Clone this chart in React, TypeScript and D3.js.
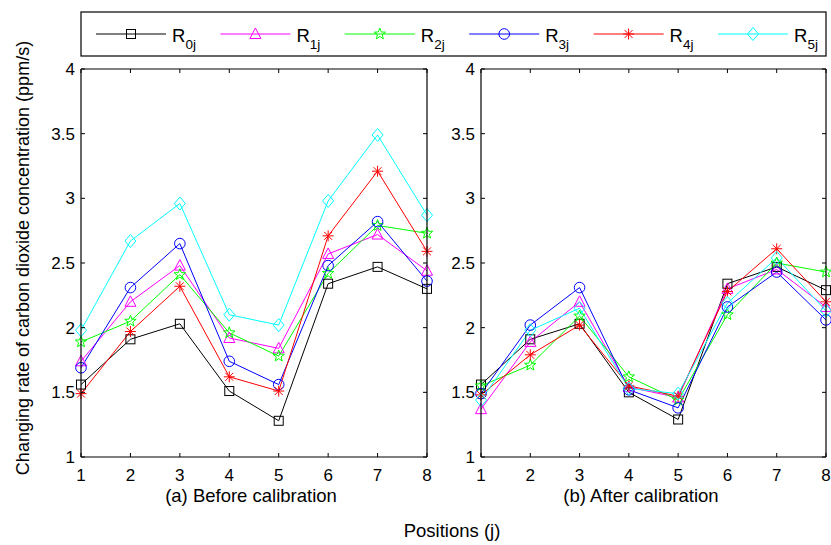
import React from "react";
import * as d3 from "d3";

const positions = [1, 2, 3, 4, 5, 6, 7, 8];
const yTicks = [1, 1.5, 2, 2.5, 3, 3.5, 4];
const seriesSubs = ["0j", "1j", "2j", "3j", "4j", "5j"];
const seriesColors = ["#000000", "#ff00ff", "#00ff00", "#0000ff", "#ff0000", "#00ffff"];
const seriesMarkers = ["square", "triangle", "star", "circle", "asterisk", "diamond"];

const beforeR0 = [1.56, 1.91, 2.03, 1.51, 1.28, 2.34, 2.47, 2.30];
const beforeR1 = [1.74, 2.20, 2.48, 1.92, 1.84, 2.57, 2.72, 2.44];
const beforeR2 = [1.89, 2.05, 2.41, 1.96, 1.78, 2.42, 2.79, 2.73];
const beforeR3 = [1.69, 2.31, 2.65, 1.74, 1.56, 2.48, 2.82, 2.36];
const beforeR4 = [1.49, 1.97, 2.32, 1.62, 1.51, 2.71, 3.21, 2.59];
const beforeR5 = [1.98, 2.67, 2.96, 2.10, 2.02, 2.98, 3.49, 2.87];

const afterR0 = [1.56, 1.91, 2.03, 1.50, 1.29, 2.34, 2.47, 2.29];
const afterR1 = [1.37, 1.89, 2.20, 1.54, 1.46, 2.30, 2.45, 2.16];
const afterR2 = [1.55, 1.71, 2.09, 1.62, 1.44, 2.10, 2.50, 2.43];
const afterR3 = [1.49, 2.02, 2.31, 1.52, 1.38, 2.16, 2.43, 2.06];
const afterR4 = [1.48, 1.79, 2.02, 1.55, 1.47, 2.28, 2.61, 2.20];
const afterR5 = [1.44, 1.98, 2.15, 1.53, 1.49, 2.19, 2.54, 2.13];

const beforeSeries = [beforeR0, beforeR1, beforeR2, beforeR3, beforeR4, beforeR5];
const afterSeries = [afterR0, afterR1, afterR2, afterR3, afterR4, afterR5];

const FONT = "'Liberation Sans', Arial, Helvetica, sans-serif";
const W = 831;
const H = 545;
const TOP = 69;
const BOTTOM = 457;

function Marker({ kind, x, y, color }: { kind: string; x: number; y: number; color: string }) {
  const common = { fill: "none", stroke: color, strokeWidth: 1 };
  if (kind === "square") return <rect x={x - 4.5} y={y - 4.5} width={9} height={9} {...common} />;
  if (kind === "circle") return <circle cx={x} cy={y} r={5.3} {...common} />;
  if (kind === "triangle") {
    const p = `${x},${y - 6} ${x + 5.5},${y + 4.5} ${x - 5.5},${y + 4.5}`;
    return <polygon points={p} {...common} />;
  }
  if (kind === "diamond") {
    const p = `${x},${y - 6.5} ${x + 5.5},${y} ${x},${y + 6.5} ${x - 5.5},${y}`;
    return <polygon points={p} {...common} />;
  }
  if (kind === "star") {
    const pts: string[] = [];
    for (let i = 0; i < 10; i++) {
      const r = i % 2 === 0 ? 6 : 2.5;
      const a = -Math.PI / 2 + (i * Math.PI) / 5;
      pts.push(`${x + r * Math.cos(a)},${y + r * Math.sin(a)}`);
    }
    return <polygon points={pts.join(" ")} {...common} />;
  }
  const r = 5.5;
  const d = r * 0.72;
  return (
    <g stroke={color} strokeWidth={1}>
      <line x1={x} y1={y - r} x2={x} y2={y + r} />
      <line x1={x - r} y1={y} x2={x + r} y2={y} />
      <line x1={x - d} y1={y - d} x2={x + d} y2={y + d} />
      <line x1={x - d} y1={y + d} x2={x + d} y2={y - d} />
    </g>
  );
}

function Panel({ x0, x1, data, caption, captionX }: { x0: number; x1: number; data: number[][]; caption: string; captionX: number }) {
  const xs = d3.scaleLinear().domain([1, 8]).range([x0, x1]);
  const ys = d3.scaleLinear().domain([1, 4]).range([BOTTOM, TOP]);
  const line = d3
    .line<number>()
    .x((_, i) => xs(positions[i]))
    .y((v) => ys(v));
  const tl = 4;
  return (
    <g>
      <rect x={x0} y={TOP} width={x1 - x0} height={BOTTOM - TOP} fill="#fff" stroke="none" />
      {data.map((s, si) => (
        <path key={"l" + si} d={line(s) || ""} fill="none" stroke={seriesColors[si]} strokeWidth={1} />
      ))}
      {data.map((s, si) =>
        s.map((v, i) => (
          <Marker key={`m${si}-${i}`} kind={seriesMarkers[si]} x={xs(positions[i])} y={ys(v)} color={seriesColors[si]} />
        ))
      )}
      <line x1={x0} y1={TOP} x2={x0} y2={BOTTOM} stroke="#000" strokeWidth={1.2} />
      <line x1={x1} y1={TOP} x2={x1} y2={BOTTOM} stroke="#000" strokeWidth={1.2} />
      <line x1={x0} y1={BOTTOM} x2={x1} y2={BOTTOM} stroke="#000" strokeWidth={1.2} />
      <line x1={x0} y1={TOP} x2={x1} y2={TOP} stroke="#000" strokeWidth={1.2} />
      {yTicks.map((t) => (
        <g key={"y" + t}>
          <line x1={x0} y1={ys(t)} x2={x0 + tl} y2={ys(t)} stroke="#000" />
          <line x1={x1} y1={ys(t)} x2={x1 - tl} y2={ys(t)} stroke="#000" />
          <text x={x0 - 6} y={ys(t)} dy="0.36em" textAnchor="end" fontSize={17} fontFamily={FONT} fill="#000">
            {t}
          </text>
        </g>
      ))}
      {positions.map((t) => (
        <g key={"x" + t}>
          <line x1={xs(t)} y1={BOTTOM} x2={xs(t)} y2={BOTTOM - tl} stroke="#000" />
          <line x1={xs(t)} y1={TOP} x2={xs(t)} y2={TOP + tl} stroke="#000" />
          <text x={xs(t)} y={481} textAnchor="middle" fontSize={17} fontFamily={FONT} fill="#000">
            {t}
          </text>
        </g>
      ))}
      <text x={captionX} y={502} textAnchor="middle" fontSize={18.5} fontFamily={FONT} fill="#000">
        {caption}
      </text>
    </g>
  );
}

export default function App() {
  const legendItemX = d3.scaleLinear().domain([0, 5]).range([96, 718]);
  return (
    <svg width={W} height={H} style={{ position: "absolute", left: 0, top: 0, background: "#fff" }}>
      <rect x={0} y={0} width={W} height={H} fill="#fff" />
      <Panel x0={81} x1={427} data={beforeSeries} caption="(a) Before calibration" captionX={251} />
      <Panel x0={481} x1={826} data={afterSeries} caption="(b) After calibration" captionX={641} />
      <text
        transform={`translate(29,${(TOP + BOTTOM) / 2 - 5}) rotate(-90)`}
        textAnchor="middle"
        fontSize={18}
        fontFamily={FONT}
        fill="#000"
      >
        Changing rate of carbon dioxide concentration (ppm/s)
      </text>
      <text x={452} y={537} textAnchor="middle" fontSize={18.5} fontFamily={FONT} fill="#000">
        Positions (j)
      </text>
      <rect x={81} y={12} width={745} height={44} fill="#fff" stroke="#000" strokeWidth={1.2} />
      {seriesSubs.map((sub, i) => {
        const lx = legendItemX(i);
        return (
          <g key={"lg" + i}>
            <line x1={lx} y1={34} x2={lx + 70} y2={34} stroke={seriesColors[i]} strokeWidth={1} />
            <Marker kind={seriesMarkers[i]} x={lx + 35} y={34} color={seriesColors[i]} />
            <text x={lx + 76} y={42} fontSize={18.5} fontFamily={FONT} fill="#000">
              R
              <tspan dy={7} fontSize={13.5}>
                {sub}
              </tspan>
            </text>
          </g>
        );
      })}
    </svg>
  );
}
